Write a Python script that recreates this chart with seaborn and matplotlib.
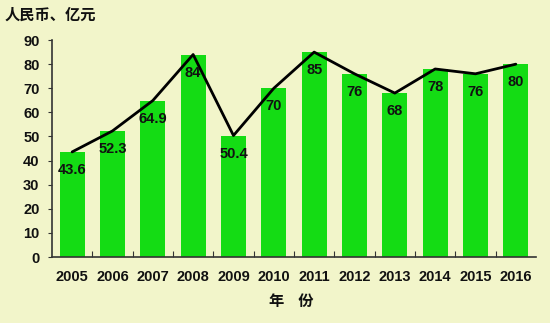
import matplotlib
matplotlib.use("Agg")
import matplotlib.pyplot as plt
import seaborn as sns
import pandas as pd

years = ["2005", "2006", "2007", "2008", "2009", "2010", "2011", "2012", "2013", "2014", "2015", "2016"]
values = [43.6, 52.3, 64.9, 84, 50.4, 70, 85, 76, 68, 78, 76, 80]
labels = ["43.6", "52.3", "64.9", "84", "50.4", "70", "85", "76", "68", "78", "76", "80"]
yticks = [0, 10, 20, 30, 40, 50, 60, 70, 80, 90]

sns.set_style("ticks")
plt.rcParams['font.family'] = ['Liberation Sans', 'Noto Sans CJK SC', 'DejaVu Sans']

bg = "#f2f5ca"
df = pd.DataFrame({"year": years, "value": values})

fig = plt.figure(figsize=(5.5, 3.23), dpi=100, facecolor=bg)
ax = fig.add_axes([0.0945, 0.2043, 0.88, 0.6717])
ax.set_facecolor(bg)

sns.barplot(data=df, x="year", y="value", color="#14dc14", saturation=1, width=0.62,
            linewidth=0, edgecolor="none", ax=ax)
ax.plot(range(len(values)), values, color="black", lw=2, zorder=5)

for i, (v, t) in enumerate(zip(values, labels)):
    ax.annotate(t, (i, v), xytext=(0, -13), textcoords="offset points",
                ha="center", va="center", fontsize=10.5, fontweight="bold", color="#111111", zorder=6)

ax.set_xlim(-0.5, len(years) - 0.5)
ax.set_ylim(0, 90)
ax.set_yticks(yticks)
ax.set_xticks([i + 0.5 for i in range(len(years) - 1)], minor=False)
ax.set_xticklabels([])
ax.set_xticks(range(len(years)), minor=True)
ax.set_xticklabels(years, minor=True)
ax.tick_params(axis="x", which="major", direction="in", length=4, color="#333333")
ax.tick_params(axis="x", which="minor", length=0, pad=9, labelsize=10.5)
ax.tick_params(axis="y", direction="out", length=3, color="#333333", labelsize=10.5, pad=6)
for lab in ax.get_xticklabels(minor=True) + ax.get_yticklabels():
    lab.set_fontweight("bold")
    lab.set_color("#111111")

sns.despine(ax=ax)
for s in ["left", "bottom"]:
    ax.spines[s].set_color("#333333")
    ax.spines[s].set_linewidth(1.2)

ax.set_xlabel("")
ax.set_ylabel("")
fig.text(0.009, 0.953, "人民币、亿元", fontsize=11, fontweight="bold", color="#111111",
         ha="left", va="center", family=['Noto Sans CJK SC', 'DejaVu Sans'])
fig.text(0.53, 0.068, "年    份", fontsize=11, fontweight="bold", color="#111111",
         ha="center", va="center", family=['Noto Sans CJK SC', 'DejaVu Sans'])

fig.savefig("out.png", dpi=100, facecolor=bg)
